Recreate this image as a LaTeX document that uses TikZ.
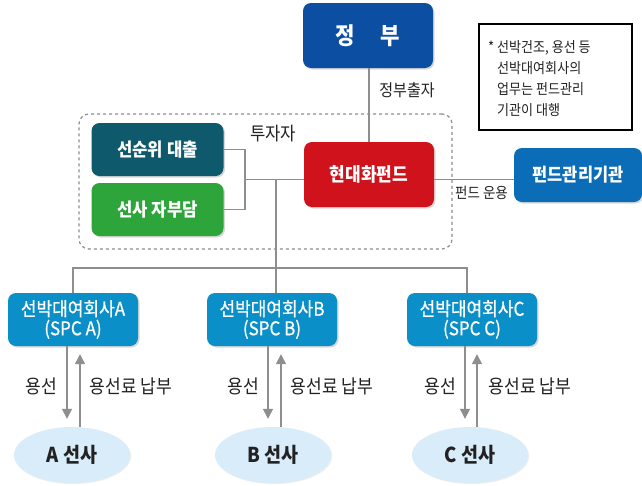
\documentclass[tikz,border=0pt]{standalone}
\usepackage{fontspec}
\setmainfont{Noto Sans CJK KR}[FakeStretch=0.9]
\newfontfamily\spcfont{Noto Sans CJK KR}[FakeStretch=0.9,FakeBold=0.8]
\usetikzlibrary{shadows,arrows.meta,shapes.geometric}
\definecolor{govblue}{HTML}{0B4EA2}
\definecolor{teal}{HTML}{0E5A6C}
\definecolor{grn}{HTML}{2DA53A}
\definecolor{fundred}{HTML}{D0121C}
\definecolor{mgrblue}{HTML}{0B6CB8}
\definecolor{spcblue}{HTML}{0A8FC8}
\definecolor{ellfill}{HTML}{D9ECF9}
\definecolor{linegray}{HTML}{8E8E8E}
\definecolor{txt}{HTML}{222222}
\begin{document}
\begin{tikzpicture}[x=1pt,y=-1pt,
  box/.style={rectangle,rounded corners=8pt,text=white,align=center,inner sep=0pt,
    font=\bfseries\fontsize{18.5}{21}\selectfont,
    drop shadow={shadow xshift=1.5pt,shadow yshift=-1.5pt,opacity=0.3}},
  conn/.style={draw=linegray,line width=1.3pt},
  arr/.style={draw=linegray,line width=1.4pt,-{Triangle[width=10pt,length=10pt]}},
  lbl/.style={font=\fontsize{19}{20}\selectfont,text=txt,inner sep=0pt},
  shipnode/.style={ellipse,fill=ellfill,minimum width=116pt,minimum height=56pt,inner sep=0pt,
    font=\bfseries\fontsize{20.5}{22}\selectfont,text=txt,
    drop shadow={shadow xshift=1pt,shadow yshift=-1pt,opacity=0.15}}]
\useasboundingbox (0,0) rectangle (642,485);
\fill[white] (0,0) rectangle (642,485);

% dashed investor area
\node[draw=linegray,dashed,line width=1.2pt,rounded corners=10pt,minimum width=373pt,minimum height=135pt,inner sep=0pt] (inv) at (265.5,181.5) {};
\node[lbl,font=\fontsize{18.5}{20}\selectfont] (invlbl) at (273,134) {투자자};

% nodes
\node[box,fill=govblue,minimum width=130pt,minimum height=65pt,font=\bfseries\fontsize{23.5}{28}\selectfont] (gov) at (368,35.5) {정\hspace{26pt}부};
\node[box,fill=fundred,minimum width=130pt,minimum height=65pt,font=\bfseries\fontsize{18.9}{21}\selectfont] (fund) at (369,174.5) {현대화펀드};
\node[box,fill=teal,minimum width=132pt,minimum height=53pt] (snr) at (157.5,149.5) {선순위 대출};
\node[box,fill=grn,minimum width=132pt,minimum height=53pt] (own) at (157.5,209.5) {선사 자부담};
\node[box,fill=mgrblue,minimum width=128pt,minimum height=54pt,font=\bfseries\fontsize{18.3}{21}\selectfont] (mgr) at (578,175) {펀드관리기관};

\tikzset{spc/.style={box,fill=spcblue,minimum width=130pt,minimum height=53pt,font=\spcfont\fontsize{18.9}{19.5}\selectfont}}
\node[spc] (spcA) at (73,319.5) {선박대여회사A\\(SPC A)};
\node[spc] (spcB) at (272,319.5) {선박대여회사B\\(SPC B)};
\node[spc] (spcC) at (472,319.5) {선박대여회사C\\(SPC C)};

\node[shipnode] (shipA) at (72,455) {A 선사};
\node[shipnode] (shipB) at (273,455) {B 선사};
\node[shipnode] (shipC) at (470,455) {C 선사};

% note
\node[draw=black,line width=1.6pt,minimum width=153pt,minimum height=106pt,inner sep=0pt] (note) at (555.5,77) {};
\node[anchor=north west,align=left,inner sep=0pt,font=\fontsize{14.5}{21}\selectfont,text=txt] (notetxt) at (488,40)
  {* 선박건조, 용선 등\\\phantom{* }선박대여회사의\\\phantom{* }업무는 펀드관리\\\phantom{* }기관이 대행};

% connectors
\draw[conn] (gov.south -| 369,0) -- (fund.north -| 369,0);
\node[lbl,font=\fontsize{16.7}{20}\selectfont] (govlbl) at (407,90) {정부출자};

\coordinate (jx) at (245,179.3);
\coordinate (jt) at (276,179.3);
\coordinate (hb) at (276,268);
\draw[conn] (snr.east) -| (jx) |- (own.east);
\draw[conn] (jx) -- (fund.west |- jx);
\draw[conn] (fund.east |- jx) -- (mgr.west |- jx);
\node[lbl,font=\fontsize{15}{18}\selectfont] (mgrlbl) at (481.5,193) {펀드 운용};
\draw[conn] (jt) -- (hb) -- (hb |- spcB.north);
\draw[conn] (spcA.north) -- (spcA.north |- hb) -- (hb -| 467,0) -- (spcC.north -| 467,0);

% arrows
\foreach \s/\c/\d/\u in {spcA/shipA/-6/7,spcB/shipB/-4/9,spcC/shipC/-7/5}{
  \draw[arr,shorten >=8pt] ([xshift=\d pt]\s.south) -- ([xshift=\d pt]\s.south |- \c.north);
  \draw[arr,shorten >=8pt] ([xshift=\u pt]\s.south |- \c.north) -- ([xshift=\u pt]\s.south);
}
\node[lbl] (lA1) at (41.5,386) {용선};
\node[lbl] (lA2) at (131,386) {용선료 납부};
\node[lbl] (lB1) at (243,386) {용선};
\node[lbl] (lB2) at (332,386) {용선료 납부};
\node[lbl] (lC1) at (440,386) {용선};
\node[lbl] (lC2) at (530,386) {용선료 납부};
\end{tikzpicture}
\end{document}
